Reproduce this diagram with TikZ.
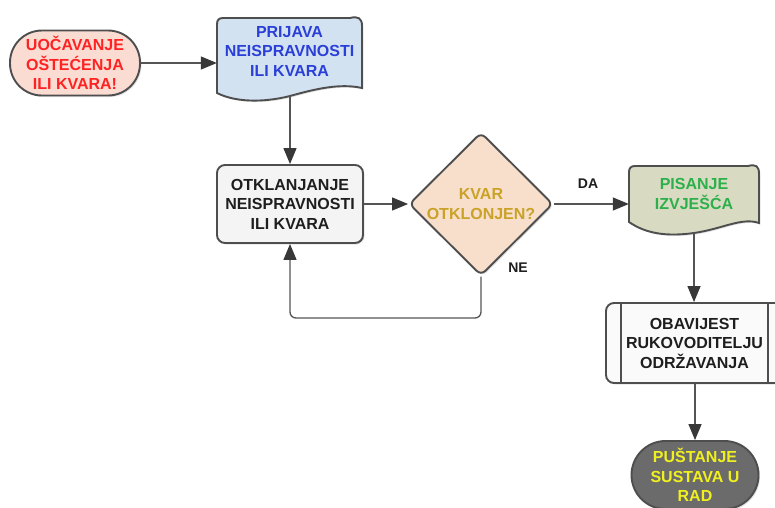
\documentclass[tikz,border=0pt]{standalone}
\usepackage{fontspec}
\setmainfont{Liberation Sans}
\usetikzlibrary{arrows.meta,shapes.geometric,shadows}
\definecolor{linec}{HTML}{555555}
\definecolor{tipc}{HTML}{383838}
\definecolor{borderc}{HTML}{4E4E4E}
\definecolor{pinkf}{HTML}{FADCD2}
\definecolor{redt}{HTML}{FF2222}
\definecolor{bluef}{HTML}{D3E2F1}
\definecolor{bluet}{HTML}{2A3FD8}
\definecolor{greyf}{HTML}{F4F4F4}
\definecolor{peachf}{HTML}{F8DFCC}
\definecolor{goldt}{HTML}{C9A227}
\definecolor{olivef}{HTML}{D8DBC2}
\definecolor{greent}{HTML}{2DB04B}
\definecolor{darkf}{HTML}{6B6B6B}
\definecolor{yellowt}{HTML}{F0F020}
\definecolor{textk}{HTML}{1E1E1E}
\tikzset{
  txt/.style={font=\bfseries\fontsize{16}{19.5}\selectfont, align=center, inner sep=1pt},
  shape border/.style={draw=borderc, line width=1.9pt,
     drop shadow={shadow xshift=1.5pt, shadow yshift=-1.5pt, opacity=0.22}},
  stadium/.style={txt, shape border, rectangle},
  procbox/.style={txt, shape border, rectangle, rounded corners=8pt, text=textk},
  decision/.style={txt, shape border, diamond, rounded corners=6pt},
  arr/.style={draw=linec, line width=1.3pt, -{Triangle[length=16pt,width=13pt,fill=tipc,color=tipc]}},
  lbl/.style={font=\bfseries\fontsize{14}{16}\selectfont, text=textk, inner sep=0pt}
}
\begin{document}
\begin{tikzpicture}[x=1pt,y=-1pt]
\useasboundingbox (0,0) rectangle (775,507);
\fill[white] (0,0) rectangle (775,507);

% start terminal
\node[stadium, fill=pinkf, text=redt, minimum width=130pt, minimum height=65pt, rounded corners=32pt]
  (n1) at (75,63) {UOČAVANJE\\OŠTEĆENJA\\ILI KVARA!};

% document 1
\path[shape border, fill=bluef]
  (217,93) -- (217,24) .. controls (217,20) and (219,18) .. (223,18)
  -- (350,18) .. controls (358,16) and (362,18) .. (362,26)
  -- (362,88) .. controls (340,83) and (315,89) .. (290,96)
  .. controls (262,103) and (235,102) .. (217,93) -- cycle;
\node[txt, text=bluet, minimum width=145pt] (doc1) at (289.5,51) {PRIJAVA\\NEISPRAVNOSTI\\ILI KVARA};
\coordinate (d1b) at (290,96);

% process
\node[procbox, fill=greyf, minimum width=146pt, minimum height=78pt] (n3) at (290,204)
  {OTKLANJANJE\\NEISPRAVNOSTI\\ILI KVARA};

% decision
\node[decision, fill=peachf, text=goldt, minimum width=144pt, minimum height=115pt] (dia) at (481,204)
  {KVAR\\OTKLONJEN?};

% document 2
\path[shape border, fill=olivef]
  (629,222) -- (629,172) .. controls (629,168) and (631,166) .. (635,166)
  -- (748,166) .. controls (756,164) and (759,166) .. (759,174)
  -- (759,223) .. controls (742,217) and (722,229) .. (694,233)
  .. controls (665,237) and (645,233) .. (629,222) -- cycle;
\node[txt, text=greent, minimum width=130pt] (doc2) at (694,194) {PISANJE\\IZVJEŠĆA};
\coordinate (d2b) at (694,233);

% predefined process
\node[procbox, fill=greyf!50!white, minimum width=177pt, minimum height=80pt] (n5) at (694.5,343)
  {OBAVIJEST\\RUKOVODITELJU\\ODRŽAVANJA};
\draw[draw=borderc, line width=1.5pt] ([xshift=16pt]n5.north west) -- ([xshift=16pt]n5.south west);
\draw[draw=borderc, line width=1.5pt] ([xshift=-16pt]n5.north east) -- ([xshift=-16pt]n5.south east);

% end terminal
\node[stadium, fill=darkf, text=yellowt, minimum width=127pt, minimum height=68pt, rounded corners=34pt]
  (n6) at (695,475) {PUŠTANJE\\SUSTAVA U\\RAD};

% connectors
\draw[arr] (n1.east) -- (n1.east -| doc1.west);
\draw[arr] (d1b) -- (n3.north);
\draw[arr] (n3.east) -- (n3.east -| dia.west);
\coordinate (loop) at (290,318);
\draw[arr, rounded corners=6pt] (dia.south) |- (loop) -- (n3.south);
\draw[arr] (dia.east) -- (dia.east -| doc2.west);
\draw[arr] (d2b) -- (d2b |- n5.north);
\draw[arr] (n5.south -| n6.north) -- (n6.north);

% labels
\node[lbl] (ne) at (518,268) {NE};
\node[lbl] (da) at (588,184) {DA};
\end{tikzpicture}
\end{document}
